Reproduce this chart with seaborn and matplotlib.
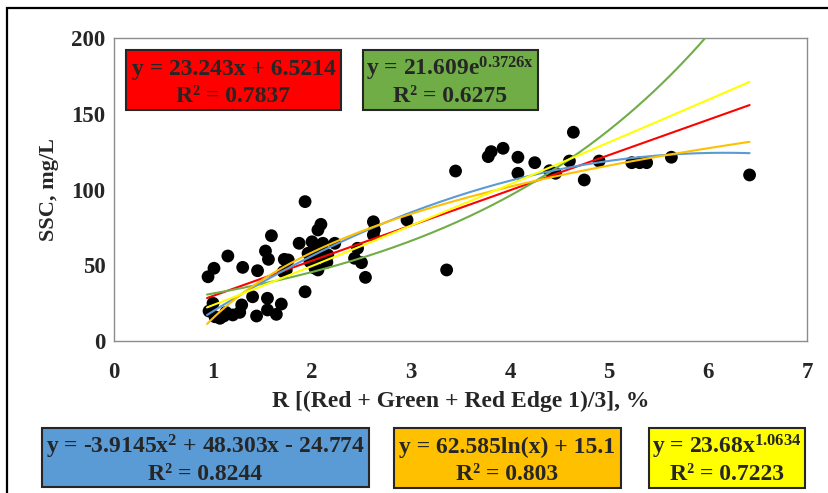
import numpy as np
import pandas as pd
import matplotlib
matplotlib.use("Agg")
import matplotlib.pyplot as plt
from matplotlib.patches import Rectangle
import seaborn as sns

# Observed reflectance R (%) and suspended sediment concentration (mg/L)
r_pct = [0.95, 1.01, 1.15, 1.30, 1.45, 1.53, 1.56, 1.59, 1.72, 1.71,
         1.40, 1.55, 1.69, 1.55, 1.64, 1.44, 1.29, 1.27, 1.20, 1.13,
         1.07, 0.96, 1.00, 1.02, 1.11,
         1.93, 2.09, 2.06, 1.87, 2.00, 2.05, 2.11, 2.23, 1.96, 2.06,
         2.16, 2.06, 1.98, 1.76, 1.74, 2.46, 2.43, 2.50, 2.54, 2.62,
         2.63, 2.62, 1.93, 2.12, 2.03, 2.15,
         2.96, 3.36, 3.45, 3.78, 3.81, 3.93, 4.08, 4.08, 4.25, 4.64,
         4.60, 4.40, 4.46, 4.75, 4.90, 5.23, 5.31, 5.38, 5.63, 6.42]
ssc = [42.4, 48.0, 56.1, 48.6, 46.4, 59.4, 53.9, 69.5, 53.9, 45.7,
       29.2, 28.2, 24.4, 20.5, 17.6, 16.5, 23.8, 18.9, 17.2, 18.9,
       15.0, 19.8, 24.9, 16.0, 16.5,
       92.0, 77.0, 73.3, 64.5, 65.5, 62.2, 64.5, 64.5, 57.9, 55.6,
       56.8, 46.9, 52.3, 53.5, 46.9, 61.2, 54.6, 51.7, 42.0, 78.7,
       73.3, 70.0, 32.5, 58.0, 48.0, 52.0,
       79.9, 46.9, 112.2, 121.7, 125.0, 127.2, 121.3, 110.7, 117.7, 137.8,
       118.8, 112.4, 110.7, 106.3, 118.8, 117.7, 117.7, 117.7, 121.3, 109.6]

# Fitted trend-line coefficients
lin_coef = [23.243, 6.5214]
exp_coef = [21.609, 0.3726]
poly_coef = [-3.9145, 48.303, -24.774]
log_coef = [62.585, 15.1]
pow_coef = [23.68, 1.0634]

# Trend-line equation labels: (line 1, line 2, box colour)
eq_labels = [
    ("y = 23.243x + 6.5214", "R² = 0.7837", "#FF0000"),
    (r"y = 21.609e$^{\mathrm{0.3726x}}$", "R² = 0.6275", "#70AD47"),
    (r"y = -3.9145x$^{\mathrm{2}}$ + 48.303x - 24.774", "R² = 0.8244", "#5B9BD5"),
    ("y = 62.585ln(x) + 15.1", "R² = 0.803", "#FFC000"),
    (r"y = 23.68x$^{\mathrm{1.0634}}$", "R² = 0.7223", "#FFFF00"),
]

sns.set_style("white")
plt.rcParams["font.family"] = ["Liberation Serif", "DejaVu Serif"]
plt.rcParams["font.weight"] = "bold"
plt.rcParams["mathtext.fontset"] = "custom"
plt.rcParams["mathtext.rm"] = "Liberation Serif:bold"
plt.rcParams["mathtext.it"] = "Liberation Serif:bold"
plt.rcParams["mathtext.bf"] = "Liberation Serif:bold"

W, H = 829, 493
fig = plt.figure(figsize=(W / 100, H / 100), dpi=100)
ax = fig.add_axes([114 / W, 1 - 341 / H, (807 - 114) / W, (341 - 38) / H])

# Trend curves evaluated from the fitted coefficients
xs = np.linspace(min(r_pct) - 0.01, max(r_pct), 300)
curves = pd.DataFrame({
    "x": np.tile(xs, 5),
    "y": np.concatenate([
        lin_coef[0] * xs + lin_coef[1],
        exp_coef[0] * np.exp(exp_coef[1] * xs),
        poly_coef[0] * xs ** 2 + poly_coef[1] * xs + poly_coef[2],
        log_coef[0] * np.log(xs) + log_coef[1],
        pow_coef[0] * xs ** pow_coef[1],
    ]),
    "fit": np.repeat(["Linear", "Exponential", "Polynomial", "Logarithmic", "Power"], len(xs)),
})

pts = pd.DataFrame({"R": r_pct, "SSC": ssc})
sns.scatterplot(data=pts, x="R", y="SSC", ax=ax, color="black", s=85,
                edgecolor="none", zorder=2, legend=False)

line_colors = {"Linear": "#FF0000", "Exponential": "#70AD47", "Polynomial": "#5B9BD5",
               "Logarithmic": "#FFC000", "Power": "#FFFF00"}
sns.lineplot(data=curves, x="x", y="y", hue="fit", palette=line_colors, ax=ax,
             linewidth=1.5, legend=False, zorder=3, sort=False, estimator=None)

ax.set_xlim(0, 7)
ax.set_ylim(0, 200)
ax.set_xticks(range(0, 8))
ax.set_yticks(range(0, 201, 50))
ax.tick_params(axis="both", length=0, labelsize=16.5)
ax.tick_params(axis="x", pad=15)
ax.tick_params(axis="y", pad=6)
for lab in ax.get_xticklabels() + ax.get_yticklabels():
    lab.set_fontweight("bold")
for sp in ax.spines.values():
    sp.set_color("#8C8C8C")
    sp.set_linewidth(1.0)
ax.set_xlabel("R [(Red + Green + Red Edge 1)/3], %", fontsize=17, fontweight="bold", labelpad=6)
ax.set_ylabel("SSC, mg/L", fontsize=16, fontweight="bold", labelpad=9)

# Outer frame
fig.add_artist(Rectangle((7 / W, -0.1), 1.2, 1 - 8 / H + 0.1, transform=fig.transFigure,
                         fill=False, edgecolor="black", linewidth=1.6))

# Equation boxes (left, top, right, bottom in pixels)
boxes = [(126, 50, 341, 110), (363, 50, 538, 110),
         (42, 428, 369, 487), (394, 428, 621, 488), (649, 428, 805, 488)]
for (l, t, r, b), (eq, r2, col) in zip(boxes, eq_labels):
    fig.add_artist(Rectangle((l / W, 1 - b / H), (r - l) / W, (b - t) / H,
                             transform=fig.transFigure, facecolor=col,
                             edgecolor="#262626", linewidth=1.5, zorder=5))
    cx = (l + r) / 2 / W
    fig.text(cx, 1 - (t + 19) / H, eq, ha="center", va="center", fontsize=17,
             fontweight="bold", zorder=6)
    fig.text(cx, 1 - (t + 46) / H, r2, ha="center", va="center", fontsize=17,
             fontweight="bold", zorder=6)

fig.savefig("out.png", dpi=100)
